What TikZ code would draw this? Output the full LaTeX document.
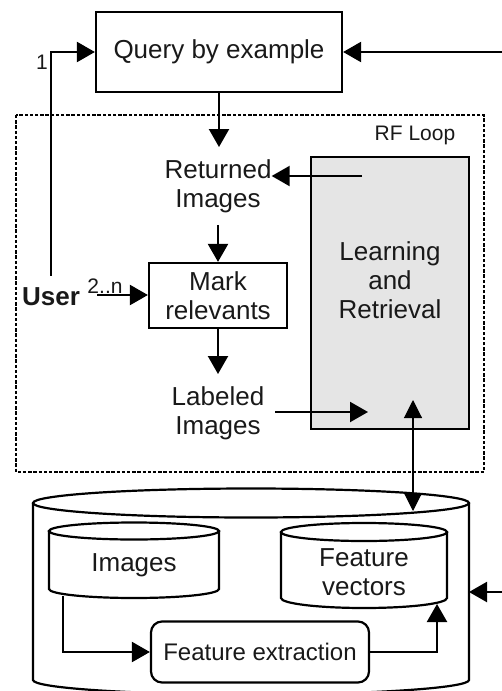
\documentclass[tikz,border=0pt]{standalone}
\usepackage{fontspec}
\setmainfont{Liberation Sans}
\usetikzlibrary{arrows.meta}
\begin{document}
\begin{tikzpicture}[x=1pt,y=-1pt,
  every node/.style={font=\fontsize{26}{29}\selectfont, inner sep=0pt, align=center, text=black!90},
  box/.style={draw, line width=2.2pt},
  arr/.style={line width=2.2pt, -{Triangle[length=18pt,width=20pt]}},
  thinarr/.style={line width=1.1pt, {Triangle[length=18pt,width=18pt]}-{Triangle[length=18pt,width=18pt]}},
  shp/.style={line width=2.2pt},
  small/.style={font=\fontsize{21}{24}\selectfont}
]
\useasboundingbox (0,0) rectangle (502,691);
% top query box
\node[box, minimum width=246pt, minimum height=80pt] (query) at (219,52) {Query by example};
% RF loop frame
\draw[line width=2.8pt, dash pattern=on 3.4pt off 1.8pt] (16,115) rectangle (484,472);
\node[font=\fontsize{21}{24}\selectfont] (rf) at (415,135) {RF Loop};
% learning and retrieval
\node[box, fill=black!10, minimum width=158pt, minimum height=272pt] (lr) at (390,293) {};
\node (lrtext) at (390,280) {Learning\\and\\Retrieval};
% inner flow
\node (returned) at (218,186) {Returned\\Images};
\node[box, minimum width=138pt, minimum height=65pt] (mark) at (218,295.5) {Mark\\relevants};
\node (labeled) at (218,413) {Labeled\\Images};
\node[font=\bfseries\fontsize{26}{29}\selectfont] (user) at (51,297) {User};
\node[small] (twon) at (105,286) {2..n};
\node[small] (one) at (42,62) {1};
% database
\draw[shp] (33,503) -- (33,680) arc[start angle=180,end angle=360,x radius=218pt,y radius=14.5pt] -- (469,503);
\draw[shp] (251,503) ellipse[x radius=218pt,y radius=14.5pt];
\draw[shp] (49,531) -- (49,589) arc[start angle=180,end angle=360,x radius=85pt,y radius=9pt] -- (219,531);
\draw[shp] (134,531) ellipse[x radius=85pt,y radius=8.5pt];
\node (imgs) at (134,565) {Images};
\draw[shp] (281,532) -- (281,598) arc[start angle=180,end angle=360,x radius=83pt,y radius=10pt] -- (447,532);
\draw[shp] (364,532) ellipse[x radius=83pt,y radius=9pt];
\node (fv) at (364,572) {Feature\\vectors};
\node[box, rounded corners=11pt, minimum width=218pt, minimum height=61pt, font=\fontsize{24}{28}\selectfont] (fe) at (260,652) {Feature extraction};
% coordinates for free ends
\coordinate (qin) at (502,52);
\coordinate (dbin) at (502,592);
\coordinate (dbside) at (469,592);
\coordinate (lrout) at (362,176);
\coordinate (labout) at (275,412);
\coordinate (lrin) at (368,412);
\coordinate (lrup) at (413,400);
\coordinate (dbtop) at (413,511);
\coordinate (uout) at (97,295);
\coordinate (imgout) at (63,596);
\coordinate (fvin) at (437,604);
% connectors
\draw[arr] (qin) -- (query.east);
\draw[arr] (query.south) -- (query.south |- 0,147);
\draw[arr] (lrout) -- (lrout -| returned.east);
\draw[arr, shorten <=12pt] (returned.south) -- (mark.north);
\draw[arr] (mark.south) -- (mark.south |- 0,374);
\draw[arr] (labout) -- (lrin);
\draw[thinarr] (lrup) -- (dbtop);
\draw[arr, shorten <=12pt] (user.north) |- (query.west);
\draw[arr] (uout) -- (uout -| mark.west);
\draw[arr] (imgout) |- (fe.west);
\draw[arr] (fe.east) -| (fvin);
\draw[arr] (dbin) -- (dbside);
\end{tikzpicture}
\end{document}
